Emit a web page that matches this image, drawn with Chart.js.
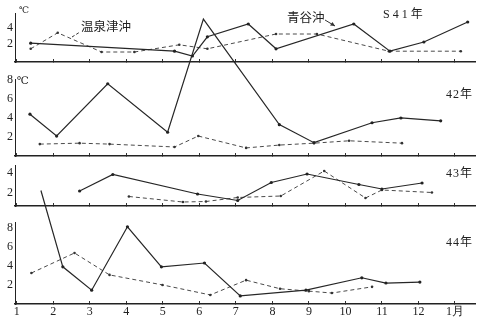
<!DOCTYPE html>
<html>
<head>
<meta charset="utf-8">
<script src="https://cdn.jsdelivr.net/npm/chart.js@4/dist/chart.umd.min.js"></script>
<style>
  html, body { margin: 0; padding: 0; background: #fff; }
  #wrap { position: relative; width: 479px; height: 320px; overflow: hidden; background: #fff; }
  #wrap canvas { position: absolute; left: 0; top: 0; }
  .txt { position: absolute; color: #222; line-height: 1; white-space: nowrap; }
  .jp { font-family: "Noto Sans CJK JP", sans-serif; font-size: 12.5px; }
  .yr { font-family: "Liberation Serif", "Noto Sans CJK JP", serif; font-size: 12px; }
  .unit { font-family: "DejaVu Serif", serif; font-size: 9px; }
  svg { position: absolute; left: 0; top: 0; }
</style>
</head>
<body>
<div id="wrap">
  <canvas id="p41" width="479" height="320"></canvas>
  <canvas id="p42" width="479" height="320"></canvas>
  <canvas id="p43" width="479" height="320"></canvas>
  <canvas id="p44" width="479" height="320"></canvas>

  <div class="txt unit" style="left:19px;top:6px;">℃</div>
  <div class="txt unit" style="left:17px;top:75px;font-size:10.5px;">℃</div>

  <div class="txt jp" style="left:81px;top:20px;">温泉津沖</div>
  <div class="txt jp" style="left:287px;top:11px;">青谷沖</div>

  <div class="txt yr" style="left:383px;top:8px;letter-spacing:3px;">S41年</div>
  <div class="txt yr" style="left:446px;top:88px;letter-spacing:1px;">42年</div>
  <div class="txt yr" style="left:446px;top:167px;letter-spacing:1px;">43年</div>
  <div class="txt yr" style="left:446px;top:236px;letter-spacing:1px;">44年</div>

  <svg width="479" height="320">
    <line x1="72" y1="37" x2="80" y2="32" stroke="#333" stroke-width="1" stroke-dasharray="3,2"/>
    <line x1="325" y1="20" x2="335" y2="26" stroke="#333" stroke-width="1"/>
    <path d="M335 26 L330 25.5 L332.5 22 Z" fill="#333"/>
  </svg>
</div>

<script>
// x axis: months, with the following January at 13
const monthTicks  = [1, 2, 3, 4, 5, 6, 7, 8, 9, 10, 11, 12, 13];
const monthLabels = ['1', '2', '3', '4', '5', '6', '7', '8', '9', '10', '11', '12', '1月'];

// 昭和41年
const s41AoyaMonth    = [1.38, 5.32, 5.81, 6.22, 7.34, 8.10, 10.23, 11.22, 12.15, 13.35];
const s41AoyaTemp     = [2.1, 1.1, 0.5, 2.9, 4.5, 1.4, 4.5, 1.1, 2.25, 4.75];
const s41YunotsuMonth = [1.38, 2.12, 3.32, 4.22, 5.45, 6.22, 8.10, 9.22, 11.19, 13.16];
const s41YunotsuTemp  = [1.4, 3.4, 1.0, 1.0, 1.9, 1.4, 3.25, 3.25, 1.1, 1.1];
const s41Ticks = [2, 4];

// 昭和42年
const s42AoyaMonth    = [1.36, 2.09, 3.49, 5.13, 6.11, 8.19, 9.14, 10.73, 11.52, 12.61];
const s42AoyaTemp     = [4.4, 2.1, 7.6, 2.5, 14.4, 3.3, 1.4, 3.5, 4.0, 3.7];
const s42YunotsuMonth = [1.63, 2.72, 3.54, 5.32, 5.97, 7.28, 8.19, 9.14, 10.10, 11.55];
const s42YunotsuTemp  = [1.25, 1.35, 1.25, 0.95, 2.1, 0.85, 1.15, 1.35, 1.6, 1.35];
const s42Ticks = [2, 4, 6, 8];

// 昭和43年
const s43AoyaMonth    = [2.72, 3.63, 5.95, 7.05, 7.97, 8.95, 10.37, 11.0, 12.1];
const s43AoyaTemp     = [2.2, 3.85, 1.9, 1.25, 3.05, 3.9, 2.85, 2.4, 3.0];
const s43YunotsuMonth = [4.07, 5.55, 6.18, 7.05, 8.23, 9.42, 10.55, 11.0, 12.37];
const s43YunotsuTemp  = [1.65, 1.1, 1.15, 1.55, 1.7, 4.2, 1.5, 2.3, 2.05];
const s43Ticks = [2, 4];

// 昭和44年
const s44AoyaMonth    = [1.66, 2.26, 3.05, 4.03, 4.96, 6.14, 7.12, 8.92, 10.45, 11.11, 12.04];
const s44AoyaTemp     = [11.9, 3.9, 1.45, 8.1, 3.9, 4.3, 0.85, 1.45, 2.75, 2.2, 2.3];
const s44YunotsuMonth = [1.40, 2.58, 3.54, 4.99, 6.30, 7.28, 8.21, 9.0, 9.63, 10.73];
const s44YunotsuTemp  = [3.25, 5.35, 3.05, 2.0, 0.95, 2.5, 1.6, 1.35, 1.15, 1.8];
const s44Ticks = [2, 4, 6, 8];

const pts = (xs, ys) => xs.map((x, i) => ({ x: x, y: ys[i] }));

const serif = { family: '"Liberation Serif", "DejaVu Serif", serif', size: 12 };

function solidSet(data) {
  return {
    label: '青谷沖', data: data, clip: false,
    borderColor: '#262626', borderWidth: 1.2, tension: 0,
    pointRadius: 1.6, pointBackgroundColor: '#222', pointBorderWidth: 0
  };
}
function dashedSet(data) {
  return {
    label: '温泉津沖', data: data, clip: false,
    borderColor: '#4a4a4a', borderWidth: 1, borderDash: [4, 3], tension: 0,
    pointRadius: 1.3, pointBackgroundColor: '#333', pointBorderWidth: 0
  };
}

function panel(id, opt) {
  return new Chart(document.getElementById(id), {
    type: 'line',
    data: { datasets: [solidSet(opt.solid), dashedSet(opt.dashed)] },
    options: {
      responsive: false, animation: false, devicePixelRatio: 1,
      layout: { padding: { left: 0, right: 3, top: opt.top, bottom: opt.bottom } },
      plugins: { legend: { display: false }, tooltip: { enabled: false } },
      scales: {
        x: {
          type: 'linear', min: 0.95, max: 13.55,
          afterBuildTicks: s => { s.ticks = monthTicks.map(v => ({ value: v })); },
          afterFit: s => { s.height = opt.showX ? 16 : 0; },
          border: { display: true, color: '#222', width: 1.5 },
          grid: { display: true, drawOnChartArea: false, drawTicks: true, tickLength: -3, color: '#333', lineWidth: 1 },
          ticks: {
            display: opt.showX, autoSkip: false, maxRotation: 0, padding: 4,
            color: '#222', font: serif,
            callback: (v, i) => monthLabels[i]
          }
        },
        y: {
          type: 'linear', min: opt.min, max: opt.max,
          afterBuildTicks: s => { s.ticks = opt.ticks.map(v => ({ value: v })); },
          afterFit: s => { s.width = 15; },
          border: { display: true, color: '#222', width: 1 },
          grid: { display: false, drawOnChartArea: false, drawTicks: false },
          ticks: { padding: 2, color: '#222', font: serif }
        }
      }
    }
  });
}

panel('p41', { top: 13,  bottom: 258, min: -0.25, max: 5.875, ticks: s41Ticks, showX: false,
  solid: pts(s41AoyaMonth, s41AoyaTemp), dashed: pts(s41YunotsuMonth, s41YunotsuTemp) });
panel('p42', { top: 79,  bottom: 164, min: 0, max: 8.1, ticks: s42Ticks, showX: false,
  solid: pts(s42AoyaMonth, s42AoyaTemp), dashed: pts(s42YunotsuMonth, s42YunotsuTemp) });
panel('p43', { top: 165, bottom: 114, min: 0.7, max: 4.8, ticks: s43Ticks, showX: false,
  solid: pts(s43AoyaMonth, s43AoyaTemp), dashed: pts(s43YunotsuMonth, s43YunotsuTemp) });
panel('p44', { top: 222, bottom: 0, min: 0, max: 8.6, ticks: s44Ticks, showX: true,
  solid: pts(s44AoyaMonth, s44AoyaTemp), dashed: pts(s44YunotsuMonth, s44YunotsuTemp) });
</script>
</body>
</html>
